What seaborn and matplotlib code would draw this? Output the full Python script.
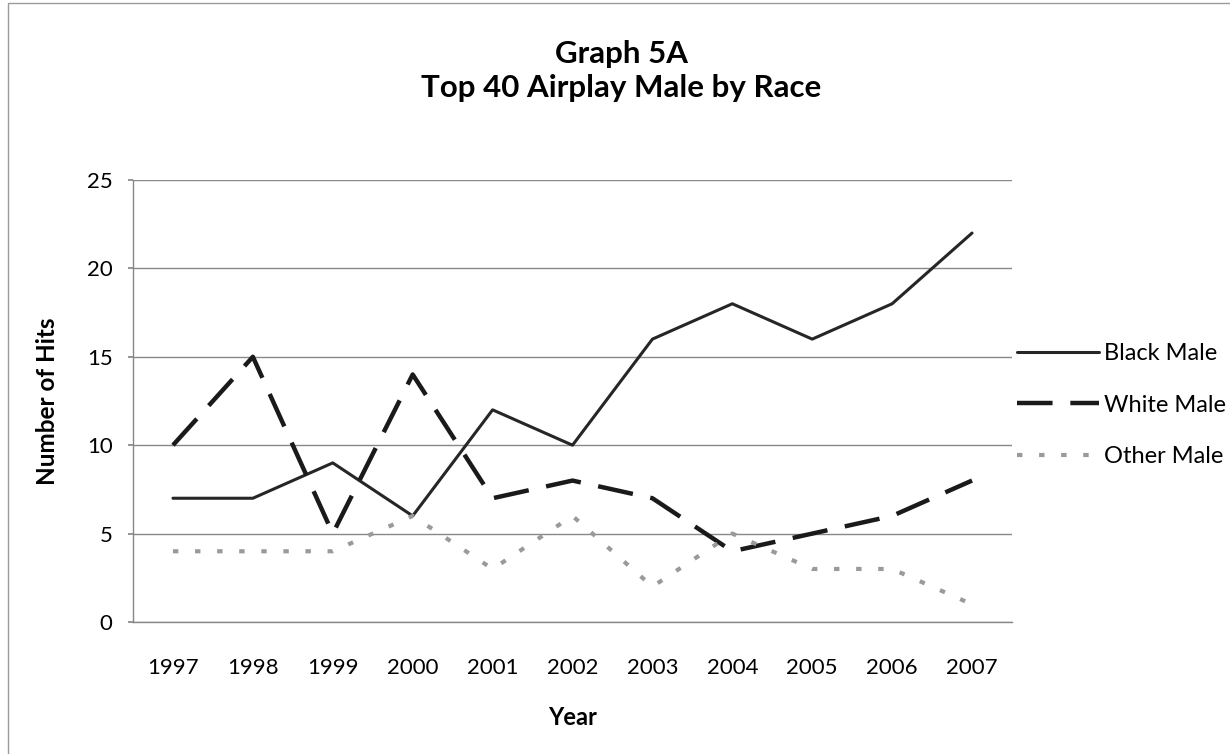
import matplotlib
matplotlib.use("Agg")
import matplotlib.pyplot as plt
import seaborn as sns
import pandas as pd

years = ["1997", "1998", "1999", "2000", "2001", "2002", "2003", "2004", "2005", "2006", "2007"]
black_male = [7, 7, 9, 6, 12, 10, 16, 18, 16, 18, 22]
white_male = [10, 15, 5, 14, 7, 8, 7, 4, 5, 6, 8]
other_male = [4, 4, 4, 6, 3, 6, 2, 5, 3, 3, 1]
series_names = ["Black Male", "White Male", "Other Male"]
y_ticks = [0, 5, 10, 15, 20, 25]

sns.set_theme(style="white")
plt.rcParams["font.family"] = ["Lato", "DejaVu Sans"]
plt.rcParams["text.color"] = "black"
plt.rcParams["axes.labelcolor"] = "black"
plt.rcParams["xtick.color"] = "black"
plt.rcParams["ytick.color"] = "black"

df = pd.DataFrame({
    "Year": years * 3,
    "Hits": black_male + white_male + other_male,
    "Series": [s for s in series_names for _ in years],
})

W, H = 1230, 754
fig = plt.figure(figsize=(W / 100, H / 100), dpi=100)
ax = fig.add_axes([133 / W, 1 - 622 / H, (1012 - 133) / W, (622 - 180) / H])

styles = {
    "Black Male": dict(color="#262626", lw=2.2, dashes=None),
    "White Male": dict(color="#1a1a1a", lw=3.2, dashes=(8, 4)),
    "Other Male": dict(color="#9a9a9a", lw=3.0, dashes=(1.3, 4.0)),
}
for name in series_names:
    st = styles[name]
    sub = df[df["Series"] == name]
    line_kw = dict(color=st["color"], lw=st["lw"], label=name)
    if st["dashes"] is not None:
        line_kw["dashes"] = st["dashes"]
    sns.lineplot(data=sub, x="Year", y="Hits", ax=ax, sort=False, legend=False, **line_kw)

ax.set_ylim(0, 25)
ax.set_xlim(-0.5, len(years) - 0.5)
ax.set_yticks(y_ticks)
ax.yaxis.grid(True, color="#888888", lw=1.0)
ax.xaxis.grid(False)
for side in ["top", "right"]:
    ax.spines[side].set_visible(False)
for side in ["left", "bottom"]:
    ax.spines[side].set_color("#888888")
    ax.spines[side].set_linewidth(1.0)
ax.tick_params(axis="y", which="both", left=True, length=3.6, color="#888888",
               labelsize=16, pad=11)
ax.tick_params(axis="x", bottom=False, labelsize=16, pad=20)

ax.set_xlabel("Year", fontsize=17, fontweight="bold", labelpad=20)
ax.set_ylabel("Number of Hits", fontsize=17.5, fontweight="bold", labelpad=20)

fig.text(0.505, 1 - 71 / H, "Graph 5A\nTop 40 Airplay Male by Race", ha="center", va="center",
         fontsize=22.5, fontweight="bold", linespacing=1.25)

handles, labels = ax.get_legend_handles_labels()
fig.legend(handles, labels, loc="center left",
           bbox_to_anchor=(1012 / W, 1 - 405 / H), frameon=False,
           fontsize=17, handlelength=3.5, handletextpad=0.2, labelspacing=1.3,
           borderaxespad=0.0, borderpad=0.2)

# outer chart frame
fig.patches.append(plt.Rectangle((8 / W, -0.1), 1.2, 1.1 - 3 / H, transform=fig.transFigure,
                                 fill=False, edgecolor="#9a9a9a", lw=1.0))

fig.savefig("out.png", dpi=100)
